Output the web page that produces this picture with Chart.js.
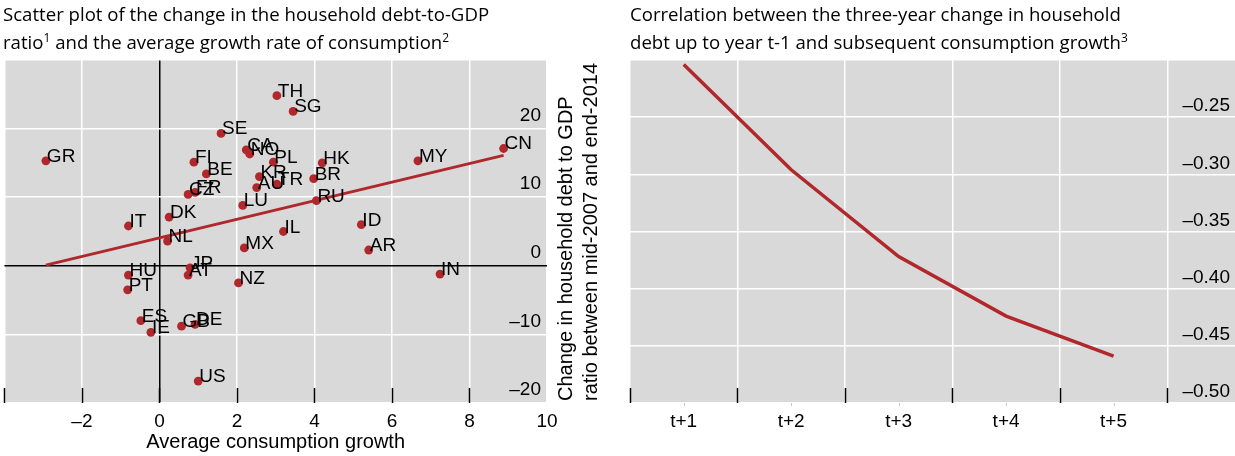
<!DOCTYPE html>
<html>
<head>
<meta charset="utf-8">
<script src="https://cdn.jsdelivr.net/npm/chart.js@4.4.1/dist/chart.umd.min.js"></script>
<style>
  html, body { margin: 0; padding: 0; background: #fff; }
  #wrap { position: relative; width: 1235px; height: 456px; overflow: hidden; }
  .title { position: absolute; top: 0; font-family: "Open Sans", "Noto Sans", sans-serif;
           font-size: 18.6px; line-height: 28px; color: #000; white-space: nowrap; }
  .title sup { font-size: 12px; line-height: 0; vertical-align: 0; position: relative; top: -7px; }
  .panel { position: absolute; top: 0; height: 456px; }
  .ytitle { position: absolute; left: 553px; top: 401px; width: 340px; height: 50px;
            transform-origin: left top; transform: rotate(-90deg);
            font-family: "Liberation Sans", Arial, sans-serif; font-size: 20px; line-height: 25px;
            color: #000; white-space: nowrap; text-align: left; }
</style>
</head>
<body>
<div id="wrap">
  <div class="panel" style="left:0;width:620px;"><canvas id="scatter" width="620" height="456"></canvas></div>
  <div class="panel" style="left:620px;width:615px;"><canvas id="corr" width="615" height="456"></canvas></div>
  <div class="title" style="left:3px;">Scatter plot of the change in the household debt-to-GDP<br>ratio<sup>1</sup> and the average growth rate of consumption<sup>2</sup></div>
  <div class="title" style="left:630px;">Correlation between the three-year change in household<br>debt up to year t-1 and subsequent consumption growth<sup>3</sup></div>
  <div class="ytitle">Change in household debt to GDP<br>ratio between mid-2007 and end-2014</div>
</div>
<script>
// Left panel: change in household debt-to-GDP vs average consumption growth
const countries = ['GR','TH','SG','SE','CA','NO','FI','BE','PL','KR','AU','FR','CZ','TR','LU','DK','IT','NL','IL','MX',
                   'HK','BR','RU','CN','MY','ID','AR','IN','HU','PT','JP','AT','NZ','ES','IE','GB','DE','US'];
const consumptionGrowth = [-2.93, 3.03, 3.45, 1.59, 2.24, 2.33, 0.89, 1.21, 2.94, 2.58, 2.51, 0.92, 0.74, 3.03, 2.15, 0.25, -0.80, 0.21, 3.20, 2.19,
                           4.20, 3.98, 4.05, 8.88, 6.67, 5.21, 5.40, 7.24, -0.80, -0.82, 0.79, 0.74, 2.04, -0.48, -0.22, 0.57, 0.92, 1.00];
const debtChange = [15.3, 24.8, 22.5, 19.3, 16.9, 16.3, 15.1, 13.4, 15.1, 13.0, 11.4, 10.7, 10.4, 11.9, 8.8, 7.1, 5.8, 3.6, 5.0, 2.6,
                    15.0, 12.7, 9.5, 17.1, 15.3, 6.0, 2.3, -1.2, -1.35, -3.5, -0.3, -1.35, -2.5, -8.0, -9.7, -8.8, -8.55, -16.8];
const fitLineX = [-2.93, 8.88];
const fitLineY = [0.1, 16.1];
const scatterXTicks = [-4, -2, 0, 2, 4, 6, 8, 10];
const scatterXLabels = ['', '–2', '0', '2', '4', '6', '8', '10'];
const scatterYTicks = [-20, -10, 0, 10, 20, 30];
const scatterYLabels = ['–20', '–10', '0', '10', '20', ''];

// Right panel: correlation by horizon
const horizons = ['t+1', 't+2', 't+3', 't+4', 't+5'];
const correlation = [-0.204, -0.296, -0.372, -0.424, -0.459];
const corrXTicks = [0.5, 1.5, 2.5, 3.5, 4.5, 5.5];
const corrYTicks = [-0.50, -0.45, -0.40, -0.35, -0.30, -0.25, -0.20];
const corrYLabels = ['–0.50', '–0.45', '–0.40', '–0.35', '–0.30', '–0.25', ''];

const RED = '#B0282B';
const PLOT_BG = '#D9D9D9';
const AXIS_FONT = { family: '"Liberation Sans", Arial, sans-serif', size: 19 };

const plotBackground = {
  id: 'plotBackground',
  beforeDraw(chart) {
    const { ctx, chartArea: a } = chart;
    ctx.save();
    ctx.fillStyle = PLOT_BG;
    ctx.fillRect(a.left, a.top, a.right - a.left, a.bottom - a.top);
    ctx.restore();
  }
};

// short black tick marks standing up from the bottom edge of the plot
const innerTicks = {
  id: 'innerTicks',
  beforeDatasetsDraw(chart) {
    const { ctx, chartArea: a } = chart;
    const xs = chart.scales.x;
    ctx.save();
    ctx.strokeStyle = '#000';
    ctx.lineWidth = 1.5;
    xs.ticks.forEach(t => {
      if (t.value >= xs.max) return;
      const px = Math.round(xs.getPixelForValue(t.value)) + 0.5;
      ctx.beginPath();
      ctx.moveTo(px, a.bottom);
      ctx.lineTo(px, a.bottom - 15);
      ctx.stroke();
    });
    ctx.restore();
  }
};

// faint marks under the axis at each horizon
const centreMarks = {
  id: 'centreMarks',
  afterDraw(chart) {
    const { ctx, chartArea: a } = chart;
    const xs = chart.scales.x;
    ctx.save();
    ctx.strokeStyle = '#C8C8C8';
    ctx.lineWidth = 1;
    horizons.forEach((h, i) => {
      const px = Math.round(xs.getPixelForValue(i + 1)) + 0.5;
      ctx.beginPath();
      ctx.moveTo(px, a.bottom);
      ctx.lineTo(px, a.bottom + 3);
      ctx.stroke();
    });
    ctx.restore();
  }
};

const pointNames = {
  id: 'pointNames',
  afterDatasetsDraw(chart) {
    const { ctx } = chart;
    const meta = chart.getDatasetMeta(0);
    ctx.save();
    ctx.font = '19px "Liberation Sans", Arial, sans-serif';
    ctx.fillStyle = '#000';
    ctx.textAlign = 'left';
    ctx.textBaseline = 'alphabetic';
    meta.data.forEach((pt, i) => {
      ctx.fillText(countries[i], pt.x + 1, pt.y + 1);
    });
    ctx.restore();
  }
};

const gridColor = c => (c.tick && c.tick.value === 0 ? '#000' : '#FFFFFF');

// bottom axes keep a fixed height and add no side padding for their labels
const fitBottomAxis = s => { s.height = 53; s.paddingLeft = 0; s.paddingRight = 0; };
const fitSideAxis = s => { s.width = 0; s.paddingTop = 0; s.paddingBottom = 0; };

new Chart(document.getElementById('scatter'), {
  type: 'scatter',
  data: {
    datasets: [
      {
        data: consumptionGrowth.map((x, i) => ({ x, y: debtChange[i] })),
        pointRadius: 4.4,
        pointHoverRadius: 4.4,
        pointBackgroundColor: RED,
        pointBorderWidth: 0
      },
      {
        type: 'line',
        data: fitLineX.map((x, i) => ({ x, y: fitLineY[i] })),
        borderColor: RED,
        borderWidth: 3,
        pointRadius: 0,
        fill: false
      }
    ]
  },
  options: {
    responsive: false,
    animation: false,
    events: [],
    layout: { padding: { left: 0, top: 60, right: 73, bottom: 0 } },
    plugins: { legend: { display: false }, tooltip: { enabled: false } },
    scales: {
      x: {
        type: 'linear', min: -4, max: 10,
        afterBuildTicks: s => { s.ticks = scatterXTicks.map(v => ({ value: v })); },
        afterFit: fitBottomAxis,
        border: { display: false },
        grid: { color: gridColor, lineWidth: 1.5, drawTicks: false },
        ticks: { autoSkip: false, maxRotation: 0, padding: 7, color: '#000', font: AXIS_FONT,
                 callback: (v, i) => scatterXLabels[i] },
        title: { display: true, text: 'Average consumption growth', color: '#000',
                 font: { family: '"Liberation Sans", Arial, sans-serif', size: 20 },
                 padding: { top: 0, bottom: 2 } }
      },
      y: {
        type: 'linear', position: 'right', min: -20, max: 30,
        afterBuildTicks: s => { s.ticks = scatterYTicks.map(v => ({ value: v })); },
        afterFit: fitSideAxis,
        border: { display: false },
        grid: { color: gridColor, lineWidth: 1.5, drawTicks: false },
        ticks: { mirror: true, padding: -6, labelOffset: -13, color: '#000', font: AXIS_FONT,
                 callback: (v, i) => scatterYLabels[i] }
      }
    }
  },
  plugins: [plotBackground, innerTicks, pointNames]
});

new Chart(document.getElementById('corr'), {
  type: 'line',
  data: {
    datasets: [{
      data: correlation.map((y, i) => ({ x: i + 1, y })),
      borderColor: RED,
      borderWidth: 3.5,
      pointRadius: 0,
      fill: false,
      tension: 0
    }]
  },
  options: {
    responsive: false,
    animation: false,
    events: [],
    layout: { padding: { left: 10, top: 60, right: 0, bottom: 0 } },
    plugins: { legend: { display: false }, tooltip: { enabled: false } },
    scales: {
      x: {
        type: 'linear', min: 0.5, max: 6.13,
        afterBuildTicks: s => { s.ticks = corrXTicks.map(v => ({ value: v })); },
        afterFit: fitBottomAxis,
        border: { display: false },
        grid: { color: '#FFFFFF', lineWidth: 1.5, drawTicks: false },
        ticks: { autoSkip: false, maxRotation: 0, padding: 7, labelOffset: 53.7, color: '#000', font: AXIS_FONT,
                 callback: (v, i) => horizons[i] || '' }
      },
      y: {
        type: 'linear', position: 'right', min: -0.5, max: -0.2,
        afterBuildTicks: s => { s.ticks = corrYTicks.map(v => ({ value: v })); },
        afterFit: fitSideAxis,
        border: { display: false },
        grid: { color: '#FFFFFF', lineWidth: 1.5, drawTicks: false },
        ticks: { mirror: true, padding: -5, labelOffset: -11, color: '#000', font: AXIS_FONT,
                 callback: (v, i) => corrYLabels[i] }
      }
    }
  },
  plugins: [plotBackground, innerTicks, centreMarks]
});
</script>
</body>
</html>
